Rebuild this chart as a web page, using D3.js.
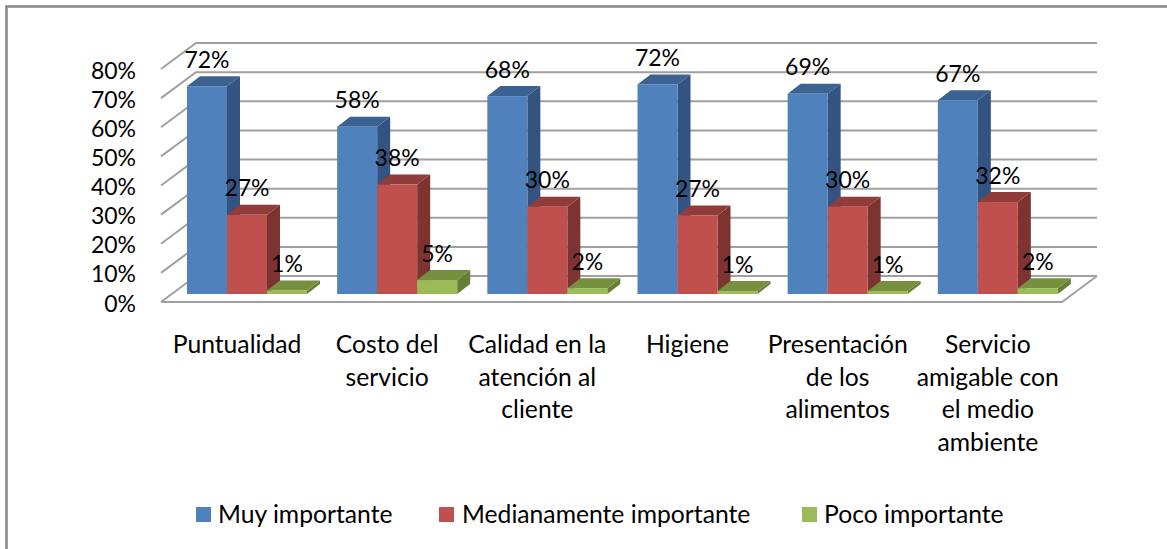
<!DOCTYPE html>
<html><head><meta charset="utf-8">
<script src="https://cdn.jsdelivr.net/npm/d3@7"></script>
<style>html,body{margin:0;padding:0;background:#fff}svg{display:block}text{font-family:Lato,"Open Sans",sans-serif;fill:#000}</style>
</head><body><svg id="c" width="1167" height="549"></svg>
<script>
const categories=[["Puntualidad"],["Costo del","servicio"],["Calidad en la","atención al","cliente"],["Higiene"],["Presentación","de los","alimentos"],["Servicio","amigable con","el medio","ambiente"]];
const muy=[71.4,57.5,68,72,68.8,66.6];
const medi=[27.2,37.6,30,27,30,31.6];
const poco=[1.2,4.8,2,1,1,2];
const muyLabels=["72%","58%","68%","72%","69%","67%"];
const mediLabels=["27%","38%","30%","27%","30%","32%"];
const pocoLabels=["1%","5%","2%","1%","1%","2%"];
const seriesNames=["Muy importante","Medianamente importante","Poco importante"];
const ticks=[0,10,20,30,40,50,60,70,80];

const svg=d3.select("#c");
const dx=35,dy=26;                // wall depth
const depthX=13,depthY=10;        // bar depth
const front=d3.scaleLinear().domain([0,80]).range([302,69]);
const barY=d3.scaleLinear().domain([0,80]).range([294,61.2]);
const gx=d3.scaleBand().domain(d3.range(6)).range([162,1063]);
const inner=d3.scaleBand().domain([0,1,2]).range([0,120]);
const left=161,right=1062;
const numSize=23,txtSize=24.7;
const colors=[{f:"#4f81bd",t:"#3c6291",s:"#335480"},{f:"#c0504d",t:"#8f3c3a",s:"#7d3331"},{f:"#9bbb59",t:"#76903f",s:"#667e37"}];

// frame
svg.append("rect").attr("x",6.5).attr("y",6.5).attr("width",1240).attr("height",600).attr("fill","#fff").attr("stroke","#8a8a8a").attr("stroke-width",2.6);

// walls
const grid=svg.append("g").attr("fill","none").attr("stroke","#a0a0a0").attr("stroke-width",2);
ticks.forEach(t=>{
  const y=front(t);
  grid.append("path").attr("d",d3.line()([[left,y],[left+dx,y-dy],[right+dx,y-dy]]));
});
grid.append("path").attr("d",d3.line()([[left,front(0)],[right,front(0)],[right+dx,front(0)-dy]]));

// y labels
svg.append("g").selectAll("text").data(ticks).join("text")
  .attr("x",136).attr("y",d=>front(d)+9.5).attr("text-anchor","end").attr("font-size",numSize).text(d=>d+"%");

// bars
const rows=[muy,medi,poco],labs=[muyLabels,mediLabels,pocoLabels];
const bars=svg.append("g");
d3.range(6).forEach(g=>{
  rows.forEach((row,s)=>{
    const v=row[g],c=colors[s];
    const x0=gx(g)+25+inner(s),w=inner.bandwidth(),top=barY(v),base=barY(0);
    bars.append("path").attr("fill",c.s).attr("d",d3.line()([[x0+w,top],[x0+w+depthX,top-depthY],[x0+w+depthX,base-depthY],[x0+w,base]]));
    bars.append("path").attr("fill",c.t).attr("d",d3.line()([[x0,top],[x0+depthX,top-depthY],[x0+w+depthX,top-depthY],[x0+w,top]]));
    bars.append("rect").attr("x",x0).attr("y",top).attr("width",w).attr("height",base-top).attr("fill",c.f);
  });
});
// data labels
const lab=svg.append("g");
d3.range(6).forEach(g=>{
  rows.forEach((row,s)=>{
    lab.append("text").attr("x",gx(g)+25+inner(s)+inner.bandwidth()/2).attr("y",barY(row[g])-18.5)
      .attr("text-anchor","middle").attr("font-size",numSize).text(labs[s][g]);
  });
});
// categories
const cat=svg.append("g");
categories.forEach((lines,g)=>{
  lines.forEach((l,i)=>{
    cat.append("text").attr("x",gx(g)+75).attr("y",353+i*32.7).attr("text-anchor","middle").attr("font-size",txtSize).text(l);
  });
});
// legend
const legX=[196,439,802],txtX=[218,462,824];
seriesNames.forEach((n,i)=>{
  svg.append("rect").attr("x",legX[i]).attr("y",507).attr("width",15).attr("height",15).attr("fill",colors[i].f);
  svg.append("text").attr("x",txtX[i]).attr("y",522.5).attr("font-size",txtSize).text(n);
});
</script></body></html>
